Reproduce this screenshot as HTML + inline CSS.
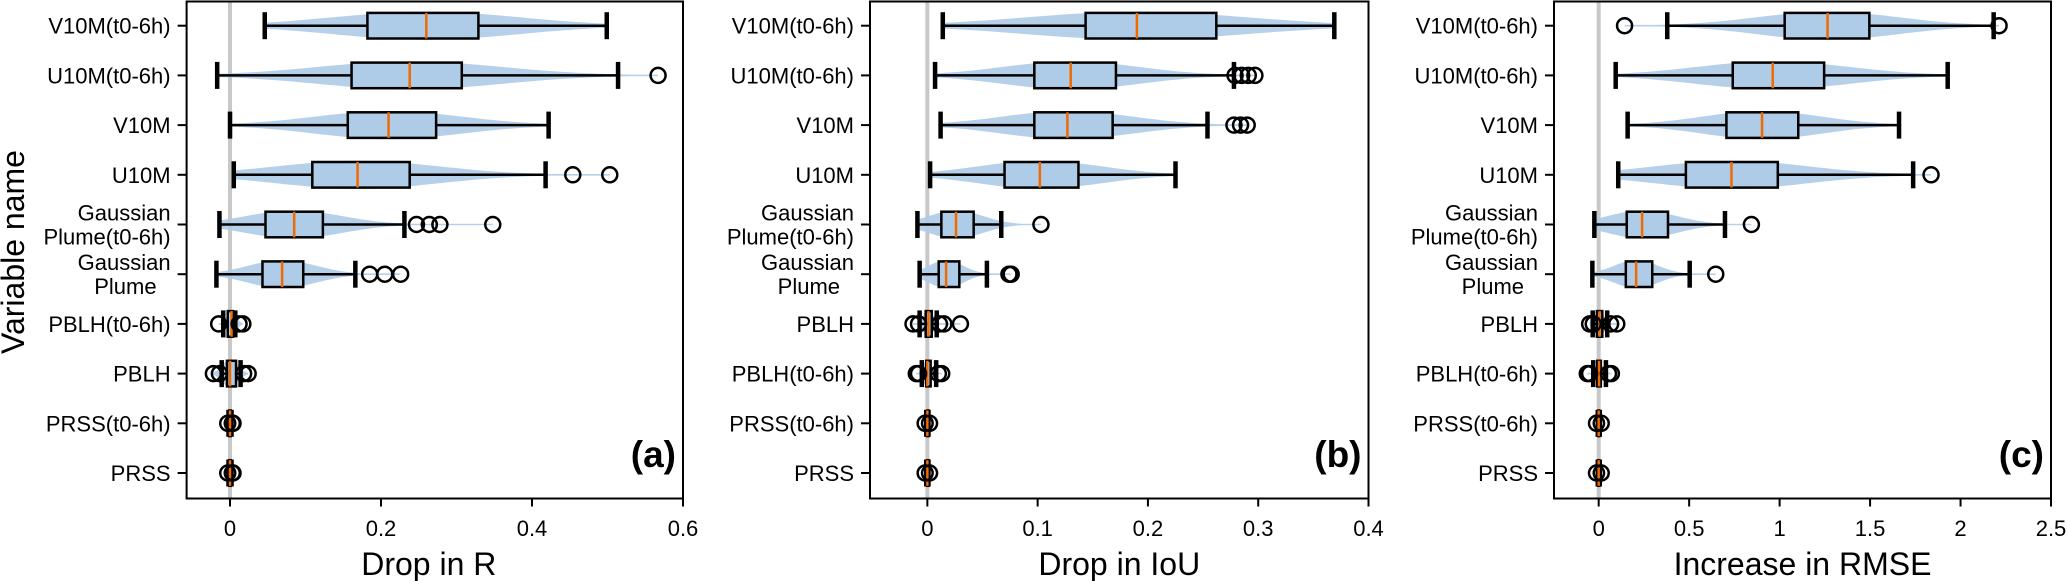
<!DOCTYPE html>
<html><head><meta charset="utf-8">
<style>
html,body{margin:0;padding:0;background:#fff;}
svg{display:block;font-family:"Liberation Sans",sans-serif;}
</style></head>
<body>
<svg id="chart" width="2067" height="581" viewBox="0 0 2067 581" xmlns="http://www.w3.org/2000/svg">
<text x="0" y="0" transform="translate(24,252) rotate(-90)" text-anchor="middle" font-size="32">Variable name</text>
</svg>
<script>
// ---------- data ----------
const labelsA = ["V10M(t0-6h)","U10M(t0-6h)","V10M","U10M","Gaussian\nPlume(t0-6h)","Gaussian\nPlume","PBLH(t0-6h)","PBLH","PRSS(t0-6h)","PRSS"];
const labelsBC = ["V10M(t0-6h)","U10M(t0-6h)","V10M","U10M","Gaussian\nPlume(t0-6h)","Gaussian\nPlume","PBLH","PBLH(t0-6h)","PRSS(t0-6h)","PRSS"];

// panel (a) Drop in R
const aLo  = [0.046,-0.017,0.000,0.005,-0.014,-0.018,-0.009,-0.011,-0.002,-0.002];
const aQ1  = [0.182, 0.161,0.156,0.109, 0.047, 0.043,-0.003,-0.004,-0.001,-0.001];
const aMed = [0.260, 0.238,0.210,0.169, 0.085, 0.069, 0.002, 0.000, 0.000, 0.000];
const aQ3  = [0.329, 0.307,0.273,0.238, 0.123, 0.097, 0.004, 0.008, 0.001, 0.001];
const aHi  = [0.499, 0.514,0.422,0.418, 0.231, 0.166, 0.007, 0.014, 0.002, 0.002];
const aOut = [[],[0.567],[],[0.454,0.503],[0.247,0.264,0.278,0.348],[0.185,0.205,0.226],[-0.015,0.012,0.017],[-0.022,-0.014,0.018,0.024],[-0.003,0.003,0.004],[-0.003,0.003,0.004]];

// panel (b) Drop in IoU
const bLo  = [0.014,0.007,0.012,0.0025,-0.009,-0.007,-0.007,-0.005,-0.001,-0.001];
const bQ1  = [0.1435,0.097,0.097,0.070,0.0127,0.0103,-0.0015,-0.001,0,0];
const bMed = [0.190,0.130,0.127,0.102,0.026,0.017,0.001,0.000,0.000,0.000];
const bQ3  = [0.262,0.171,0.168,0.137,0.042,0.029,0.004,0.003,0.001,0.001];
const bHi  = [0.369,0.278,0.254,0.225,0.067,0.054,0.0085,0.008,0.001,0.001];
const bOut = [[],[0.279,0.285,0.291,0.297],[0.278,0.284,0.290],[],[0.103],[0.074,0.076],[-0.013,-0.008,0.011,0.015,0.030],[-0.010,-0.008,0.010,0.013],[-0.002,0.002],[-0.002,0.002]];

// panel (c) Increase in RMSE
const cLo  = [0.379,0.094,0.160,0.108,-0.024,-0.035,-0.033,-0.030,-0.005,-0.005];
const cQ1  = [1.028,0.741,0.706,0.482,0.155,0.150,-0.010,-0.008,-0.002,-0.002];
const cMed = [1.265,0.962,0.903,0.734,0.240,0.207,0.005,0.002,0.000,0.000];
const cQ3  = [1.496,1.246,1.103,0.990,0.383,0.296,0.020,0.012,0.003,0.003];
const cHi  = [2.183,1.929,1.660,1.738,0.698,0.503,0.047,0.040,0.006,0.006];
const cOut = [[0.143,2.213],[],[],[1.837],[0.844],[0.647],[-0.050,-0.030,0.066,0.100],[-0.063,-0.050,0.054,0.070],[-0.012,0.014],[-0.012,0.014]];

const aTicks = [0,0.2,0.4,0.6], aTickLbl = ["0","0.2","0.4","0.6"];
const bTicks = [0,0.1,0.2,0.3,0.4], bTickLbl = ["0","0.1","0.2","0.3","0.4"];
const cTicks = [0,0.5,1,1.5,2,2.5], cTickLbl = ["0","0.5","1","1.5","2","2.5"];

// ---------- drawing ----------
const NS = "http://www.w3.org/2000/svg";
const svg = document.getElementById('chart');
function mk(tag, attrs, parent){
  const e = document.createElementNS(NS, tag);
  for (const k in attrs) e.setAttribute(k, attrs[k]);
  (parent||svg).appendChild(e);
  return e;
}
const TOP = 1.5, BOT = 498.5, ROW0 = 25.7, ROWSTEP = 49.7;
function yRow(i){ return ROW0 + i*ROWSTEP; }

function panel(key, left, right, xmin, xmax, labels, lo, q1, med, q3, hi, outs, ticks, tickLbl, title, tag){
  const g = mk('g', {});
  
  
  const sx = v => left + (v - xmin) / (xmax - xmin) * (right - left);
  const zl = mk('line', {x1:sx(0), x2:sx(0), y1:TOP, y2:BOT, stroke:'#c8c8c8', 'stroke-width':4}, g);
  
  
  for (let i = 0; i < labels.length; i++){
    const y = yRow(i);
    const rg = mk('g', {}, g);
    
    
    const allv = [lo[i], hi[i]].concat(outs[i]);
    const vmin = Math.min.apply(null, allv), vmax = Math.max.apply(null, allv);
    const iqr = Math.max(q3[i] - q1[i], 1e-6);
    const s = iqr / 1.2, W = 14;
    const N = 60; let top = [], bot = [];
    for (let k = 0; k <= N; k++){
      const v = vmin + (vmax - vmin) * k / N;
      const w = Math.max(W * Math.exp(-0.5 * Math.pow((v - med[i]) / s, 2)), 0.8);
      top.push(sx(v).toFixed(1) + ',' + (y - w).toFixed(1));
      bot.unshift(sx(v).toFixed(1) + ',' + (y + w).toFixed(1));
    }
    const vi = mk('polygon', {points: top.concat(bot).join(' '), fill:'#aecbe8', 'fill-opacity':0.9}, rg);
    
    
    const wk = mk('line', {x1:sx(lo[i]), x2:sx(hi[i]), y1:y, y2:y, stroke:'#000', 'stroke-width':2.5}, rg);
    
    
    [lo[i], hi[i]].forEach(v => {
      const c = mk('line', {x1:sx(v), x2:sx(v), y1:y-13.5, y2:y+13.5, stroke:'#000', 'stroke-width':4.5}, rg);
      
      
    });
    const bx = mk('rect', {x:sx(q1[i]), y:y-12.8, width:Math.max(sx(q3[i])-sx(q1[i]),0.5), height:25.6, fill:'#aecbe8', stroke:'#000', 'stroke-width':2.5}, rg);
    
    
    const md = mk('line', {x1:sx(med[i]), x2:sx(med[i]), y1:y-12.8, y2:y+12.8, stroke:'#f06a00', 'stroke-width':2.5}, rg);
    
    
    outs[i].forEach(v => {
      const c = mk('circle', {cx:sx(v), cy:y, r:7.5, fill:'none', stroke:'#000', 'stroke-width':2.5}, rg);
      
      
    });
    mk('line', {x1:left-9, x2:left, y1:y, y2:y, stroke:'#000', 'stroke-width':2}, g);
    const parts = labels[i].split('\n');
    const t = mk('text', {x:left-16, y:0, 'text-anchor':'end', 'font-size':22}, g);
    
    
    if (parts.length === 1){ t.setAttribute('y', y + 8); t.textContent = parts[0]; }
    else {
      parts.forEach((p, j) => {
        const ts = mk('tspan', {x: left-16 - (j===1 && p==='Plume' ? 14 : 0), y: y - 4 + j*24}, t);
        ts.textContent = p;
      });
    }
  }
  const fr = mk('rect', {x:left, y:TOP, width:right-left, height:BOT-TOP, fill:'none', stroke:'#000', 'stroke-width':2}, g);
  
  
  ticks.forEach((v, j) => {
    mk('line', {x1:sx(v), x2:sx(v), y1:BOT, y2:BOT+8, stroke:'#000', 'stroke-width':2}, g);
    const tl = mk('text', {x:sx(v), y:536, 'text-anchor':'middle', 'font-size':22}, g);
    
    
    tl.textContent = tickLbl[j];
  });
  const xt = mk('text', {x:(left+right)/2 + (key==='a'?-6:0), y:575, 'text-anchor':'middle', 'font-size':32}, g);
  
  
  xt.textContent = title;
  const pl = mk('text', {x:right-7, y:467, 'text-anchor':'end', 'font-size':37, 'font-weight':'bold'}, g);
  
  
  pl.textContent = tag;
}

panel('a', 186.6, 683, -0.0575, 0.6, labelsA, aLo, aQ1, aMed, aQ3, aHi, aOut, aTicks, aTickLbl, 'Drop in R', '(a)');
panel('b', 870, 1368.5, -0.052, 0.4, labelsBC, bLo, bQ1, bMed, bQ3, bHi, bOut, bTicks, bTickLbl, 'Drop in IoU', '(b)');
panel('c', 1554, 2051, -0.247, 2.5, labelsBC, cLo, cQ1, cMed, cQ3, cHi, cOut, cTicks, cTickLbl, 'Increase in RMSE', '(c)');
</script>
</body></html>
